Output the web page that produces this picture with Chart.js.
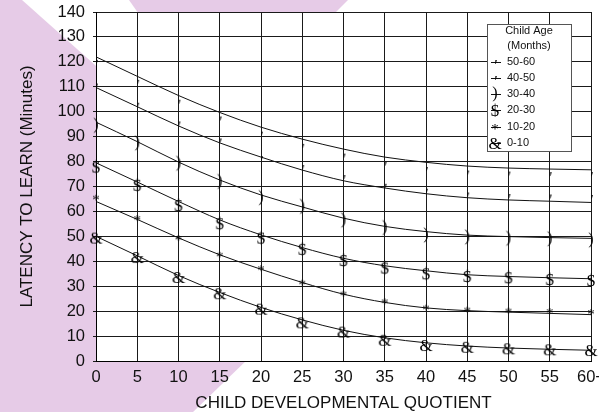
<!DOCTYPE html>
<html>
<head>
<meta charset="utf-8">
<script src="https://cdn.jsdelivr.net/npm/chart.js@4/dist/chart.umd.min.js"></script>
<style>
  html, body { margin: 0; padding: 0; background: #fff; }
  #wrap { width: 599px; height: 412px; }
</style>
</head>
<body>
<div id="wrap"><canvas id="latencyChart" width="599" height="412"></canvas></div>
<script>
const xValues = [0, 5, 10, 15, 20, 25, 30, 35, 40, 45, 50, 55, 60];
const xTickLabels = ["0", "5", "10", "15", "20", "25", "30", "35", "40", "45", "50", "55", "60+"];
const ageGroups = ["50-60", "40-50", "30-40", "20-30", "10-20", "0-10"];
const markerChars = ["'", "'", ")", "$", "*", "&"];

// fitted curves
const curve5060 = [122, 114.2, 106.5, 99.7, 93.8, 89, 85, 81.8, 79.7, 78.2, 77.4, 77, 76.7];
const curve4050 = [109.7, 102, 94.3, 87.5, 81.8, 76.6, 72.3, 69.4, 67.1, 65.5, 64.6, 64.1, 63.6];
const curve3040 = [95.8, 88, 79.8, 72.6, 66.6, 61.8, 57.3, 54, 51.9, 50.5, 49.9, 49.5, 49.2];
const curve2030 = [79.5, 71.8, 64, 56.6, 50.6, 45.5, 41.2, 38.2, 36.2, 34.6, 33.9, 33.4, 33];
const curve1020 = [64, 56.8, 49.4, 42.6, 36.8, 31.5, 26.8, 23.5, 21.3, 20.2, 19.6, 19.1, 18.6];
const curve010 = [50, 42.2, 34.3, 27.5, 21.5, 16.5, 12.3, 9.3, 7.3, 6, 5.2, 4.7, 4.3];

// plotted points
const marks5060 = [120, 112, 104, 97.3, 91.2, 86.3, 82.4, 79.2, 77, 75.6, 75.2, 75, 75];
const marks4050 = [110.5, 102.8, 95.3, 88.5, 81.4, 77.8, 73.8, 70.3, 68.3, 66.8, 66.2, 66, 65.8];
const marks3040 = [94.5, 87.4, 79.3, 72, 65.5, 62, 56.5, 53.5, 50.5, 49.7, 49.2, 49, 48.5];
const marks2030 = [78, 70.7, 62.6, 55.3, 49.5, 45, 40.5, 37.5, 35.2, 34.1, 33.6, 32.9, 32.5];
const marks1020 = [65.5, 57.3, 49.3, 42.6, 37.2, 31.4, 27, 23.9, 21.4, 20.6, 20.2, 20, 19.6];
const marks010 = [49.5, 41.7, 33.7, 27.2, 21, 15.5, 11.8, 8.5, 6.4, 5.7, 5.1, 4.7, 4.4];

const curves = [curve5060, curve4050, curve3040, curve2030, curve1020, curve010];
const marks = [marks5060, marks4050, marks3040, marks2030, marks1020, marks010];

const glyphFonts = [
  "italic 16px 'Liberation Serif'",
  "italic 16px 'Liberation Serif'",
  "16px 'Liberation Serif'",
  "17px 'Liberation Serif'",
  "15px 'Liberation Serif'",
  "17px 'Liberation Serif'",
];

// small canvas with the glyph, used as point style
function glyphImage(ch, font) {
  const c = document.createElement("canvas");
  c.width = 20;
  c.height = 22;
  const g = c.getContext("2d");
  g.font = font;
  g.fillStyle = "#000";
  g.textAlign = "center";
  g.textBaseline = "alphabetic";
  const m = g.measureText(ch);
  const asc = m.actualBoundingBoxAscent, desc = m.actualBoundingBoxDescent;
  g.fillText(ch, 10, Math.round(11 + (asc - desc) / 2));
  return c;
}
const glyphs = markerChars.map((ch, i) => glyphImage(ch, glyphFonts[i]));

const toXY = (arr) => arr.map((v, i) => ({ x: xValues[i], y: v }));

const datasets = [];
ageGroups.forEach((g, i) => {
  datasets.push({
    label: g + " curve",
    data: toXY(curves[i]),
    borderColor: "#111",
    borderWidth: 1,
    pointRadius: 0,
    fill: false,
    cubicInterpolationMode: "monotone",
    order: 1,
  });
  datasets.push({
    label: g,
    data: toXY(marks[i]),
    showLine: false,
    pointStyle: glyphs[i],
    pointRadius: 3,
    clip: false,
    order: 0,
  });
});

const bgPlugin = {
  id: "bg",
  beforeDraw(chart) {
    const ctx = chart.ctx;
    const a = chart.chartArea;
    ctx.save();
    ctx.fillStyle = "#fff";
    ctx.fillRect(0, 0, chart.width, chart.height);
    ctx.fillStyle = "#e6cbe7";
    ctx.beginPath();
    ctx.moveTo(0, 0);
    ctx.lineTo(22, 0);
    ctx.lineTo(333, 277);
    ctx.lineTo(193, 412);
    ctx.lineTo(0, 412);
    ctx.closePath();
    ctx.fill();
    ctx.beginPath();
    ctx.moveTo(129, 0);
    ctx.lineTo(348, 0);
    ctx.lineTo(318, 30);
    ctx.lineTo(150, 30);
    ctx.closePath();
    ctx.fill();
    ctx.fillStyle = "#fff";
    ctx.fillRect(a.left, a.top, a.right - a.left, a.bottom - a.top);
    ctx.restore();
  },
};

const legendBoxPlugin = {
  id: "legendBox",
  afterDraw(chart) {
    const ctx = chart.ctx;
    const a = chart.chartArea;
    const left = a.right - 104, top = a.top + 12, w = 84, h = 127;
    ctx.save();
    ctx.fillStyle = "#fff";
    ctx.fillRect(left, top, w, h);
    ctx.strokeStyle = "#555";
    ctx.lineWidth = 1;
    ctx.strokeRect(left + 0.5, top + 0.5, w, h);
    ctx.fillStyle = "#111";
    ctx.font = "11px 'Liberation Sans', Arial, sans-serif";
    ctx.textAlign = "center";
    ctx.textBaseline = "middle";
    ctx.fillText("Child Age", left + 42, top + 7);
    ctx.fillText("(Months)", left + 42, top + 22);
    ctx.textAlign = "left";
    ageGroups.forEach((g, i) => {
      const y = top + 37.5 + i * 16.3;
      ctx.strokeStyle = "#111";
      ctx.beginPath();
      ctx.moveTo(left + 4, Math.round(y) + 0.5);
      ctx.lineTo(left + 14, Math.round(y) + 0.5);
      ctx.stroke();
      const img = glyphs[i];
      ctx.drawImage(img, Math.round(left + 8 - img.width / 2), Math.round(y - img.height / 2));
      ctx.fillText(g, left + 20, y);
    });
    ctx.restore();
  },
};

new Chart(document.getElementById("latencyChart").getContext("2d"), {
  type: "line",
  data: { datasets: datasets },
  options: {
    responsive: false,
    animation: false,
    devicePixelRatio: 1,
    layout: { padding: { top: 12, right: 8, left: 0, bottom: 0 } },
    plugins: {
      legend: { display: false },
      tooltip: { enabled: false },
    },
    scales: {
      x: {
        type: "linear",
        min: 0,
        max: 60,
        ticks: {
          stepSize: 5,
          color: "#111",
          padding: 7,
          maxRotation: 0,
          font: { family: "'Liberation Sans', Arial, sans-serif", size: 16.5 },
          callback: (v, i) => xTickLabels[i],
        },
        grid: { color: "#1a1a1a", lineWidth: 1, drawTicks: false },
        border: { color: "#000", width: 1 },
        title: {
          display: true,
          text: "CHILD DEVELOPMENTAL QUOTIENT",
          color: "#111",
          padding: 0,
          font: { family: "'Liberation Sans', Arial, sans-serif", size: 17, lineHeight: 1 },
        },
        afterFit(s) {
          s.height = 51;
          s.paddingLeft = 0;
          s.paddingRight = 0;
        },
      },
      y: {
        min: 0,
        max: 140,
        ticks: {
          stepSize: 10,
          color: "#111",
          padding: 8,
          font: { family: "'Liberation Sans', Arial, sans-serif", size: 16.5 },
        },
        grid: { color: "#1a1a1a", lineWidth: 1, tickLength: 3 },
        border: { color: "#000", width: 1 },
        title: {
          display: true,
          text: "LATENCY TO LEARN (Minutes)",
          color: "#111",
          padding: { top: 19, bottom: 0 },
          font: { family: "'Liberation Sans', Arial, sans-serif", size: 17, lineHeight: 1 },
        },
        afterFit(s) {
          s.width = 96;
          s.paddingTop = 0;
          s.paddingBottom = 0;
        },
      },
    },
  },
  plugins: [bgPlugin, legendBoxPlugin],
});
</script>
</body>
</html>
